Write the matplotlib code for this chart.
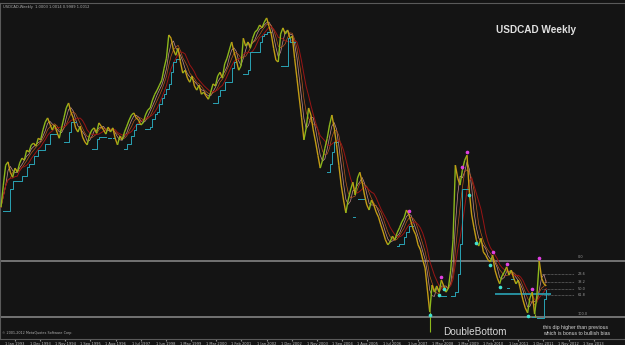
import numpy as np
import pandas as pd
import matplotlib
matplotlib.use('Agg')
import matplotlib.pyplot as plt
from matplotlib.collections import LineCollection
from matplotlib.ticker import FuncFormatter

# monthly closes, Jul 1992 .. Jan 2012
closes = [
    1.154, 1.207, 1.255, 1.263, 1.238, 1.226, 1.248, 1.238, 1.260, 1.272,
    1.267, 1.291, 1.287, 1.304, 1.308, 1.301, 1.320, 1.316, 1.340, 1.359,
    1.369, 1.354, 1.340, 1.352, 1.335, 1.320, 1.345, 1.369, 1.393, 1.405,
    1.383, 1.369, 1.345, 1.335, 1.349, 1.323, 1.311, 1.304, 1.328, 1.340,
    1.345, 1.332, 1.357, 1.349, 1.340, 1.330, 1.347, 1.335, 1.345, 1.320,
    1.304, 1.325, 1.316, 1.335, 1.349, 1.364, 1.376, 1.381, 1.369, 1.364,
    1.352, 1.357, 1.376, 1.388, 1.393, 1.412, 1.426, 1.436, 1.448, 1.460,
    1.489, 1.513, 1.569, 1.561, 1.533, 1.520, 1.537, 1.504, 1.477, 1.484,
    1.465, 1.455, 1.470, 1.446, 1.436, 1.448, 1.426, 1.431, 1.422, 1.414,
    1.431, 1.451, 1.446, 1.470, 1.479, 1.465, 1.499, 1.513, 1.533, 1.552,
    1.528, 1.508, 1.484, 1.494, 1.561, 1.542, 1.552, 1.537, 1.561, 1.576,
    1.581, 1.593, 1.586, 1.600, 1.610, 1.590, 1.571, 1.537, 1.508, 1.504,
    1.571, 1.586, 1.571, 1.581, 1.561, 1.566, 1.513, 1.465, 1.417, 1.369,
    1.316, 1.345, 1.393, 1.376, 1.340, 1.311, 1.279, 1.248, 1.267, 1.296,
    1.320, 1.352, 1.376, 1.345, 1.304, 1.255, 1.207, 1.171, 1.140, 1.171,
    1.195, 1.214, 1.183, 1.224, 1.238, 1.214, 1.183, 1.159, 1.147, 1.171,
    1.159, 1.142, 1.130, 1.111, 1.094, 1.075, 1.063, 1.070, 1.084, 1.075,
    1.092, 1.104, 1.118, 1.128, 1.147, 1.137, 1.118, 1.099, 1.087, 1.063,
    1.051, 1.027, 1.007, 0.954, 0.901, 0.966, 0.949, 0.964, 0.949, 0.978,
    0.964, 0.949, 0.959, 1.002, 1.075, 1.255, 1.224, 1.207, 1.243, 1.267,
    1.279, 1.190, 1.135, 1.104, 1.075, 1.060, 1.079, 1.046, 1.038, 1.027,
    1.022, 1.038, 1.002, 0.983, 0.969, 0.988, 0.997, 1.010, 0.990, 1.002,
    0.983, 0.969, 0.978, 0.954, 0.930, 0.911, 0.899, 0.935, 0.949, 0.896,
    0.942, 1.024, 0.983, 0.969, 0.964,
]
start_month = '1992-07-01'

# long lower wicks at the two bottoms
wick_idx = [184, 229]
wick_low = [0.853, 0.888]

# swing markers (month index)
swing_highs = [175, 189, 198, 200, 211, 217, 228, 231]
swing_lows = [184, 188, 190, 201, 204, 210, 214, 226]

# double bottom levels and fibonacci retracement
level_top = 1.025
level_bottom = 0.889
fib_levels = [23.6, 38.2, 50.0, 61.8]
support_level = 0.944

bg = '#141414'
up_col = '#8db81c'
down_col = '#c49c14'
font = ['Liberation Sans', 'DejaVu Sans']

s = pd.Series(closes)
n = len(s)
idx = np.arange(n)
dates = pd.date_range(start_month, periods=n + 40, freq='MS')

fig = plt.figure(figsize=(6.25, 3.45), dpi=100, facecolor=bg)
ax = fig.add_axes([0, 6 / 345, 1, 336 / 345], facecolor=bg)

# price as up/down coloured segments
segs = [[(i - 1, closes[i - 1]), (i, closes[i])] for i in range(1, n)]
cols = [up_col if closes[i] >= closes[i - 1] else down_col for i in range(1, n)]
ax.add_collection(LineCollection(segs, colors=cols, linewidths=1.0, zorder=4))
ax.vlines(wick_idx, wick_low, [closes[i] for i in wick_idx], color=up_col, lw=0.8, zorder=4)

# moving averages
ma_fast = s.rolling(3, min_periods=1).mean()
ma_mid = s.rolling(5, min_periods=1).mean()
ma_slow = s.rolling(8, min_periods=1).mean()
ax.plot(idx, ma_fast, color='#c89090', lw=0.5, zorder=3)
ax.plot(idx, ma_mid, color='#b8581c', lw=0.5, zorder=3)
ax.plot(idx, ma_slow, color='#9a1414', lw=0.7, zorder=3)

# trailing stop (only in up moves)
trail = s.rolling(4, min_periods=1).min() - 0.01
trail = trail.where(s > ma_slow)
ax.step(idx, trail, color='#2aa3b5', lw=0.7, where='post', zorder=3)

ax.plot(swing_highs, [closes[i] + 0.008 for i in swing_highs], 'o',
        color='#e040e0', ms=1.6, zorder=5)
ax.plot(swing_lows, [closes[i] - 0.008 for i in swing_lows], 'o',
        color='#40e0d0', ms=1.6, zorder=5)

# double bottom lines
ax.axhline(level_top, color='#7a7a7a', lw=1.3, zorder=2)
ax.axhline(level_bottom, color='#7a7a7a', lw=1.3, zorder=2)
ax.hlines(support_level, 212, 236, color='#2aa3b5', lw=1.2, zorder=3)
rng = level_top - level_bottom
for f in fib_levels:
    y = level_top - rng * f / 100
    ax.hlines(y, 232, 246, color='#8a8a8a', lw=0.5, linestyles=(0, (1, 1)), zorder=3)
    ax.text(247.5, y, f'{f:.1f}', color='#9a9a9a', fontsize=2.5, va='center')
ax.text(247.5, level_top + 0.003, '0.0', color='#9a9a9a', fontsize=2.5, va='bottom')
ax.text(247.5, level_bottom + 0.003, '100.0', color='#9a9a9a', fontsize=2.5, va='bottom')

ax.set_xlim(-0.43, 267.8)
ax.set_ylim(0.836, 1.646)

# text
ax.text(0.857, 0.92, 'USDCAD Weekly', transform=ax.transAxes, color='#e0e0e0',
        fontsize=7.2, fontweight='bold', ha='center', va='center', family=font)
ax.text(0.760, 0.022, 'DoubleBottom', transform=ax.transAxes, color='#d8d8d8',
        fontsize=7.2, ha='center', va='center', family=font)
ax.text(0.869, 0.025, 'this dip higher than previous\nwhich is bonus to bullish bias',
        transform=ax.transAxes, color='#d8d8d8', fontsize=3.7, ha='left',
        va='center', linespacing=1.15, family=font)
ax.text(0.005, 0.995, 'USDCAD,Weekly  1.0003 1.0014 0.9989 1.0012',
        transform=ax.transAxes, color='#b0b0b0', fontsize=2.6, va='top')
ax.text(0.003, 0.012, '\u00a9 2001-2012 MetaQuotes Software Corp.',
        transform=ax.transAxes, color='#b0b0b0', fontsize=2.4, va='bottom')

# date axis
ticks = np.arange(6, 260, 10.8)
ax.set_xticks(ticks)
ax.xaxis.set_major_formatter(FuncFormatter(
    lambda v, p: dates[int(round(v))].strftime('%-d %b %Y') if 0 <= v < len(dates) else ''))
ax.tick_params(axis='x', colors='#8a8a8a', labelcolor='#c0c0c0', labelsize=2.6,
               length=1.5, pad=0.5, direction='out')
ax.set_yticks([])
for sp in ax.spines.values():
    sp.set_color('#5a5a5a')
    sp.set_linewidth(0.8)

fig.savefig('out.png', dpi=100, facecolor=bg)
